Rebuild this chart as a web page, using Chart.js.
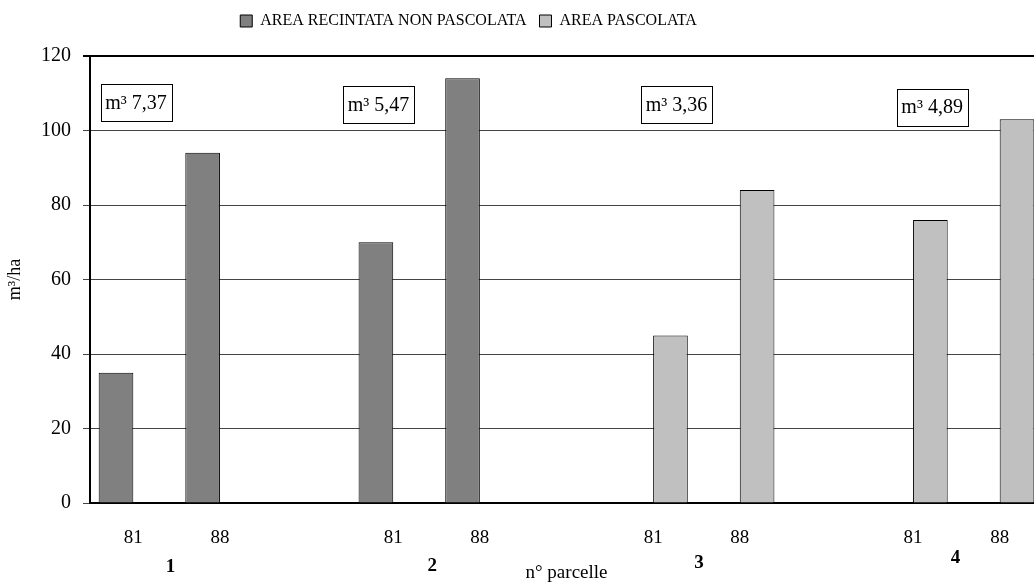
<!DOCTYPE html>
<html>
<head>
<meta charset="utf-8">
<script src="https://cdn.jsdelivr.net/npm/chart.js@4"></script>
<style>
html,body{margin:0;padding:0;background:#fff;overflow:hidden;}
#wrap{width:1050px;height:583px;position:relative;}
</style>
</head>
<body>
<div id="wrap"><canvas id="c" width="1050" height="583"></canvas></div>
<script>
// ---- data ----
const categories = ['81', '88', '', '81', '88', '', '81', '88', '', '81', '88'];
const seriesNames = ['AREA RECINTATA NON PASCOLATA', 'AREA PASCOLATA'];
const recintata = [35, 94, null, 70, 114, null, null, null, null, null, null];
const pascolata = [null, null, null, null, null, null, 45, 84, null, 76, 103];
const groupLabels = ['1', '2', '3', '4'];
const boxTexts = ['m³ 7,37', 'm³ 5,47', 'm³ 3,36', 'm³ 4,89'];
const yTicks = [0, 20, 40, 60, 80, 100, 120];

const SERIF = "'Liberation Serif', 'Times New Roman', serif";

// layout helpers (positions kept separate from data)
const groupLabelPos = [[0.43, 567], [3.45, 566], [6.53, 563], [9.49, 558]]; // [category units, y px]
const boxPos = [[0.03, 107.5], [2.83, 107], [6.27, 107], [9.22, 106.3]];     // [category units, value]

const extrasPlugin = {
  id: 'extras',
  afterLayout(chart) {
    const l = chart.legend;
    if (l) { l.left -= 53; l.right -= 53; l.top -= 17; l.bottom -= 17; }
  },
  afterDraw(chart) {
    const ctx = chart.ctx;
    const xs = chart.scales.x, ys = chart.scales.y;
    const step = xs.getPixelForValue(1) - xs.getPixelForValue(0);
    const x0 = xs.getPixelForValue(0);
    ctx.save();
    // group numbers
    ctx.fillStyle = '#000';
    ctx.font = 'bold 19px ' + SERIF;
    ctx.textAlign = 'center';
    ctx.textBaseline = 'middle';
    groupLabels.forEach((t, i) => {
      const [cx, cy] = groupLabelPos[i];
      ctx.fillText(t, x0 + cx * step, cy);
    });
    // annotation boxes
    ctx.font = '20px ' + SERIF;
    boxTexts.forEach((t, i) => {
      const [cx, v] = boxPos[i];
      const px = x0 + cx * step;
      const py = ys.getPixelForValue(v);
      const w = ctx.measureText(t).width + 9;
      const h = 37;
      ctx.fillStyle = '#fff';
      ctx.fillRect(px - w / 2, py - h / 2, w, h);
      ctx.strokeStyle = '#000';
      ctx.lineWidth = 1;
      ctx.strokeRect(Math.round(px - w / 2) + 0.5, Math.round(py - h / 2) + 0.5, Math.round(w), h);
      ctx.fillStyle = '#000';
      ctx.fillText(t, px, py + 1);
    });
    ctx.restore();
  }
};

new Chart(document.getElementById('c'), {
  type: 'bar',
  data: {
    labels: categories,
    datasets: [
      { label: seriesNames[0], data: recintata, backgroundColor: '#808080', borderColor: '#000', borderWidth: 1 },
      { label: seriesNames[1], data: pascolata, backgroundColor: '#c0c0c0', borderColor: '#000', borderWidth: 1 }
    ]
  },
  options: {
    responsive: false,
    animation: false,
    layout: { padding: { top: 17, right: 7, left: 0, bottom: 0 } },
    datasets: { bar: { categoryPercentage: 0.8, barPercentage: 1.0 } },
    plugins: {
      legend: {
        position: 'top',
        labels: {
          boxWidth: 12, boxHeight: 12, padding: 13,
          color: '#000',
          font: { family: SERIF, size: 16 }
        }
      },
      tooltip: { enabled: false }
    },
    scales: {
      x: {
        grid: { display: false, drawTicks: false },
        border: { color: '#000', width: 2 },
        ticks: { color: '#000', font: { family: SERIF, size: 19 }, padding: 24, maxRotation: 0, autoSkip: false },
        title: { display: true, text: 'n° parcelle', color: '#000', font: { family: SERIF, size: 19, lineHeight: 1 }, padding: { top: 0, bottom: 0 } },
        afterFit(s) { s.height = 80; }
      },
      y: {
        min: 0, max: 120,
        afterBuildTicks(s) { s.ticks = yTicks.map(v => ({ value: v })); },
        grid: {
          color: c => (c.tick && c.tick.value === 120) ? '#000' : '#444',
          lineWidth: c => (c.tick && c.tick.value === 120) ? 2 : 1,
          tickLength: 7, drawTicks: true
        },
        border: { color: '#000', width: 2 },
        ticks: { color: '#000', font: { family: SERIF, size: 20 }, padding: 12 },
        title: { display: true, text: 'm³/ha', color: '#000', font: { family: SERIF, size: 18, lineHeight: 1 }, padding: { top: 6, bottom: 0 } },
        afterFit(s) { s.width = 90; }
      }
    }
  },
  plugins: [extrasPlugin]
});
</script>
</body>
</html>
